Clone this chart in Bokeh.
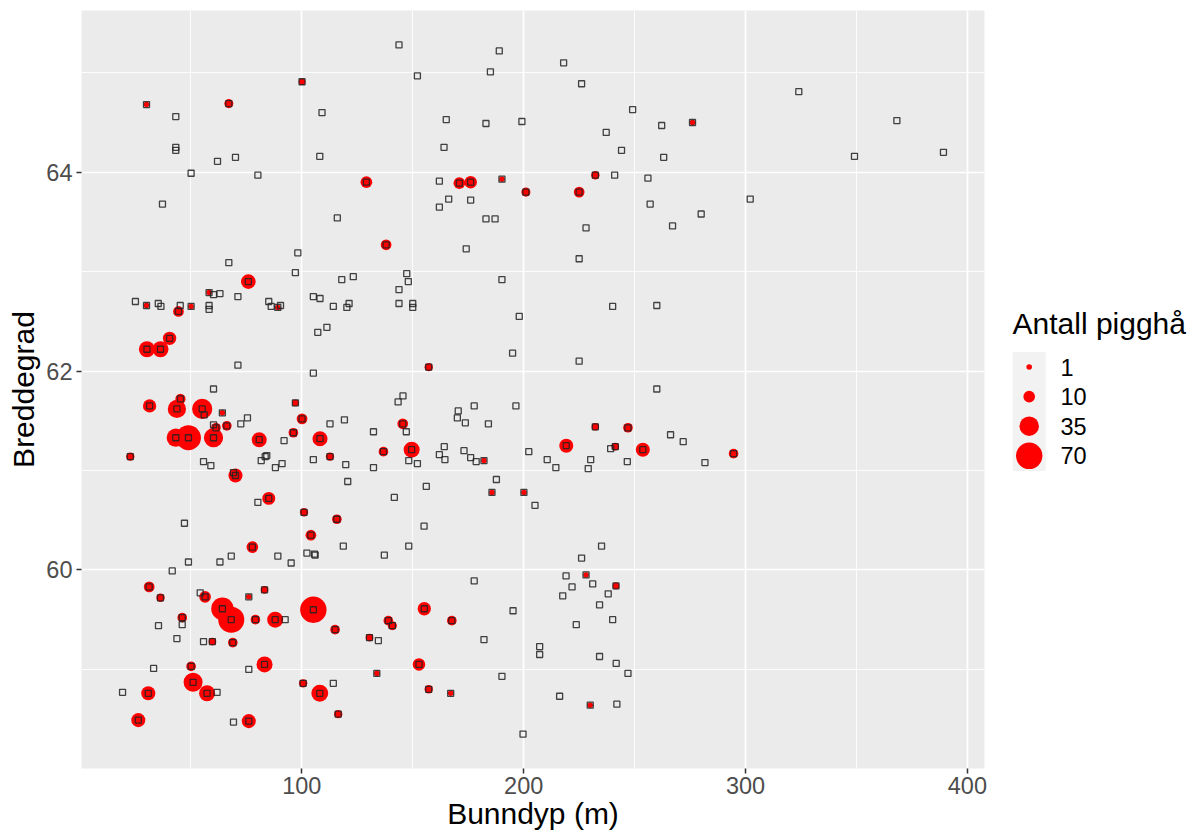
import numpy as np
from bokeh.plotting import figure
from bokeh.models import ColumnDataSource, Range1d, FixedTicker
from bokeh.layouts import row
from bokeh.embed import file_html
from bokeh.resources import INLINE
from bokeh.core.properties import value

# ---- data: one entry per trawl station (count 0 = no catch) ----
depth = [143.8, 43.2, 43.2, 43.2, 37.2, 50.1, 62.0, 70.1, 80.2, 108.1, 109.1, 116.0, 98.2, 67.1, 97.1, 118.0, 123.2,
         30.0, 67.1, 100.1, 129.1, 138.0, 75.9,
         152.1, 189.0, 185.0, 218.0, 226.1, 324.0, 165.1, 183.0, 199.2, 164.1, 249.1, 262.2, 237.2, 244.1, 263.1,
         162.0, 241.0, 256.0, 166.2, 176.1, 162.0, 257.0, 302.1, 280.0, 267.1, 183.0, 187.1, 228.1, 174.1, 225.0,
         147.3, 148.0, 190.2,
         276.1, 171.0, 176.1, 190.2, 201.0, 225.0, 232.3,
         368.2, 349.1, 389.2,
         25.0, 35.3, 36.5, 45.2, 58.2, 58.2, 60.2, 63.1, 71.2, 85.1, 86.2, 90.4, 105.2, 108.2, 114.2, 120.3, 121.3,
         143.8, 143.8, 150.0, 150.0, 107.2, 111.3, 71.2, 105.2, 60.2, 56.0, 75.5, 72.5, 60.2, 112.7, 119.2,
         143.4, 145.6, 92.0, 132.3, 83.5, 84.2, 81.7, 55.7, 59.0, 105.2, 91.1, 88.1, 119.8, 132.3, 69.2, 120.7,
         141.7, 80.2, 47.1, 118.7, 137.2,
         30.0, 50.1, 58.2, 89.2, 44.4, 40.4, 30.2, 36.3, 45.3, 97.1, 31.4, 43.7, 55.1, 64.2, 61.3, 66.2, 100.1,
         43.2, 48.9, 60.2, 80.8, 96.2, 108.2, 22.7, 112.7, 136.8, 70.1, 85.1, 101.0, 115.8, 104.1, 77.7, 145.5,
         48.9, 63.1, 68.2, 89.2, 95.2, 102.3, 105.7, 106.0, 41.6, 54.2, 46.1, 35.4, 92.5, 43.7, 55.7, 134.5,
         33.2, 76.1, 19.2, 61.8, 114.2, 69.2,
         31.2, 36.3, 56.4, 76.1, 83.2, 64.2, 68.2, 105.2, 46.1, 79.1, 88.0, 115.0, 139.0, 140.8, 59.7, 68.9,
         130.5, 50.1, 83.2, 133.8, 30.8, 51.0, 57.3, 100.6, 108.1, 116.4, 26.3, 76.1,
         240.1, 260.0, 198.0, 195.0, 225.0, 260.0, 170.5, 170.1, 177.7, 196.5, 173.7, 184.1, 147.1, 266.2, 271.9,
         164.2, 162.0, 164.5, 148.2, 152.1, 173.1, 176.1, 178.6, 202.3, 210.6, 214.5, 230.2, 229.1, 239.2, 246.7,
         281.7, 187.7, 156.1, 205.1, 155.1, 148.2, 226.1, 235.1,
         157.2, 232.3, 247.0, 149.5, 182.1, 219.2, 241.3, 253.7, 294.6, 185.7, 200.1,
         219.1, 221.8, 231.1, 238.1, 217.6, 234.2, 177.7, 195.2, 240.1, 223.7, 182.1, 207.2, 207.2, 234.2, 241.7,
         247.0, 190.2, 216.2, 242.0, 199.7,
         228.1, 241.6, 155.2, 167.6, 152.8, 157.2, 167.1, 230.0]

lat = [65.28, 64.56, 64.25, 64.22, 63.68, 63.99, 64.11, 64.15, 63.97, 64.16, 64.60, 63.54, 63.19, 63.09, 62.99, 62.92, 62.95,
       64.68, 64.69, 64.91, 63.90, 63.27, 62.90,
       64.97, 65.22, 65.01, 65.10, 64.89, 64.81, 64.53, 64.49, 64.51, 64.25, 64.63, 64.47, 64.40, 64.22, 64.15,
       63.91, 63.97, 63.94, 63.73, 63.72, 63.65, 63.68, 63.73, 63.58, 63.46, 63.53, 63.53, 63.44, 63.23, 63.13,
       62.98, 62.90, 62.92,
       64.50, 63.89, 63.90, 63.93, 63.80, 63.80, 63.97,
       64.52, 64.16, 64.20,
       62.70, 62.68, 62.65, 62.66, 62.66, 62.62, 62.77, 62.78, 62.75, 62.70, 62.65, 62.66, 62.75, 62.73, 62.65, 62.64, 62.68,
       62.82, 62.68, 62.68, 62.64, 62.39, 62.44, 62.06, 61.98, 61.82, 61.56, 61.53, 61.47, 61.46, 61.47, 61.51,
       61.69, 61.75, 61.30, 61.39, 61.14, 61.15, 61.10, 61.09, 61.05, 61.11, 61.07, 61.03, 61.06, 61.03, 60.98, 60.89,
       60.73, 60.68, 60.47, 60.24, 60.15,
       62.66, 62.65, 62.79, 62.64, 62.60, 62.33, 62.22, 62.22, 61.72, 61.68, 61.65, 61.62, 61.62, 61.58, 61.43, 61.45, 61.52,
       61.33, 61.33, 61.33, 61.31, 61.38, 61.32, 61.14, 61.14, 61.19, 60.95, 60.72, 60.58, 60.51, 60.35, 60.23, 61.47,
       60.08, 60.08, 60.14, 60.14, 60.07, 60.17, 60.16, 60.15, 59.99, 59.77, 59.45, 59.44, 59.50, 59.31, 59.28, 59.29,
       59.01, 59.00, 58.77, 58.77, 58.86, 58.47,
       59.83, 59.72, 59.73, 59.73, 59.80, 59.61, 59.50, 59.60, 59.52, 59.50, 59.50, 59.40, 59.49, 59.44, 59.28, 59.27,
       59.32, 59.03, 59.05, 58.96, 58.76, 58.87, 58.76, 58.86, 58.76, 58.55, 58.49, 58.48,
       62.65, 62.66, 62.55, 62.18, 62.10, 61.82, 61.60, 61.53, 61.65, 61.65, 61.48, 61.47, 61.39, 61.36, 61.29,
       61.24, 61.16, 61.11, 61.10, 61.07, 61.20, 61.13, 61.09, 61.19, 61.11, 61.03, 61.11, 61.02, 61.22, 61.09,
       61.08, 60.91, 60.84, 60.65, 60.44, 60.24, 60.12, 60.24,
       62.04, 61.44, 61.43, 61.21, 61.10, 61.25, 61.24, 61.21, 61.17, 60.78, 60.78,
       59.94, 59.83, 59.86, 59.76, 59.74, 59.65, 59.89, 59.59, 59.50, 59.45, 59.30, 59.23, 59.15, 59.13, 59.06,
       58.96, 58.93, 58.73, 58.65, 58.35,
       59.95, 59.84, 59.61, 59.49, 59.05, 58.80, 58.76, 58.64]

count = [0] * 17 + [1, 5, 2, 10, 8, 18] + [0] * 33 + [1, 10, 12, 1, 5, 8, 4] + [0] * 3 + [0] * 53 + \
        [1, 1, 1, 1, 8, 14, 22, 22, 7, 2, 14, 30, 38, 1, 6, 6, 8,
         30, 62, 34, 19, 6, 19, 4, 4, 6, 16, 13, 4, 6, 8, 10, 8] + [0] * 22 + \
        [8, 4, 10, 1, 3, 48, 68, 70, 6, 6, 22, 6, 6, 5, 3, 6,
         3, 6, 22, 1, 16, 33, 22, 4, 25, 4, 16, 16] + [0] * 38 + \
        [4, 3, 6, 22, 1, 16, 3, 16, 6, 1, 1] + [0] * 20 + \
        [1, 2, 14, 6, 12, 4, 1, 1]

x_ticks = [100, 200, 300, 400]
x_minor = [50, 150, 250, 350]
y_ticks = [60, 62, 64]
y_minor = [59, 61, 63, 65]
legend_breaks = [1, 10, 35, 70]
legend_title = "Antall pigghå"
x_title = "Bunndyp (m)"
y_title = "Breddegrad"

FONT = "Liberation Sans"
W_MAIN, W_LEG, H = 988, 203, 836
TOP, BOTTOM = 10, 68          # frame spans page y 10 .. 768


def expand(v, f=0.05):
    lo, hi = min(v), max(v)
    d = (hi - lo) * f
    return lo - d, hi + d


cnt = np.array(count, dtype=float)
cmin, cmax = cnt[cnt > 0].min(), cnt[cnt > 0].max()


def size_px(v):
    # ggplot-like area scale: size range 1..6 on sqrt(count)
    v = np.asarray(v, dtype=float)
    s = 1 + 5 * (np.sqrt(v) - np.sqrt(cmin)) / (np.sqrt(cmax) - np.sqrt(cmin))
    return 1.467 * (2.845 * s + 0.945)


dep = np.array(depth)
la = np.array(lat)
mask = cnt > 0
all_src = ColumnDataSource(dict(depth=dep, lat=la))
catch_src = ColumnDataSource(dict(depth=dep[mask], lat=la[mask], size=size_px(cnt[mask])))

xlo, xhi = expand(depth)
ylo, yhi = expand(lat)

p = figure(width=W_MAIN, height=H, x_range=Range1d(xlo, xhi), y_range=Range1d(ylo, yhi),
           output_backend="svg", toolbar_location=None, tools="", title=None,
           min_border_left=81, min_border_right=4, min_border_top=TOP, min_border_bottom=BOTTOM)
p.background_fill_color = "#EBEBEB"
p.border_fill_color = "white"
p.outline_line_color = None

p.xaxis.ticker = FixedTicker(ticks=x_ticks, minor_ticks=x_minor)
p.yaxis.ticker = FixedTicker(ticks=y_ticks, minor_ticks=y_minor)
p.axis.axis_line_color = None
p.axis.major_tick_line_color = "#333333"
p.axis.major_tick_line_width = 1.5
p.axis.major_tick_out = 5
p.axis.major_tick_in = 0
p.axis.minor_tick_line_color = None
p.axis.major_label_text_font = FONT
p.axis.major_label_text_font_size = "23.5px"
p.axis.major_label_text_color = "#4D4D4D"
p.xaxis.major_label_standoff = 3
p.yaxis.major_label_standoff = 4

p.xaxis.axis_label = x_title
p.yaxis.axis_label = y_title
p.axis.axis_label_text_font = FONT
p.axis.axis_label_text_font_size = "30px"
p.axis.axis_label_text_font_style = "normal"
p.axis.axis_label_text_color = "black"
p.xaxis.axis_label_standoff = 0
p.yaxis.axis_label_standoff = 3

p.grid.grid_line_color = "white"
p.grid.grid_line_width = 1.7
p.grid.minor_grid_line_color = "white"
p.grid.minor_grid_line_width = 0.85

p.scatter("depth", "lat", source=catch_src, marker="circle", size="size",
          fill_color="#FF0000", line_color=None)
p.scatter("depth", "lat", source=all_src, marker="square", size=6,
          fill_color=None, line_color="#222222", line_alpha=0.85, line_width=1.3)

# ---- legend panel (data coordinates = page pixels) ----
leg = figure(width=W_LEG, height=H, x_range=Range1d(W_MAIN, W_MAIN + W_LEG),
             y_range=Range1d(H - BOTTOM, TOP),
             output_backend="svg", toolbar_location=None, tools="", title=None,
             x_axis_location=None, y_axis_location=None,
             min_border_left=0, min_border_right=0, min_border_top=TOP, min_border_bottom=BOTTOM)
leg.grid.visible = False
leg.outline_line_color = None
leg.background_fill_color = "white"
leg.border_fill_color = "white"

key_top, key_h, key_x = 351.7, 29.6, 1028.7
centers = [key_top + (i + 0.5) * key_h for i in range(len(legend_breaks))]
leg.rect(x=[key_x] * len(centers), y=centers, width=33, height=key_h + 0.6,
         fill_color="#F2F2F2", line_color=None)
leg.scatter(x=[key_x] * len(centers), y=centers, size=size_px(legend_breaks),
            marker="circle", fill_color="#FF0000", line_color=None)
leg.text(x=[1060] * len(centers), y=centers, text=[str(b) for b in legend_breaks],
         text_baseline="middle", text_align="left", text_font=value(FONT),
         text_font_size=value("23.5px"), text_color="black")
leg.text(x=[1012], y=[323], text=[legend_title], text_baseline="middle", text_align="left",
         text_font=value(FONT), text_font_size=value("30px"), text_color="black")

layout = row(p, leg)
open("out.html", "w").write(file_html(layout, INLINE))
